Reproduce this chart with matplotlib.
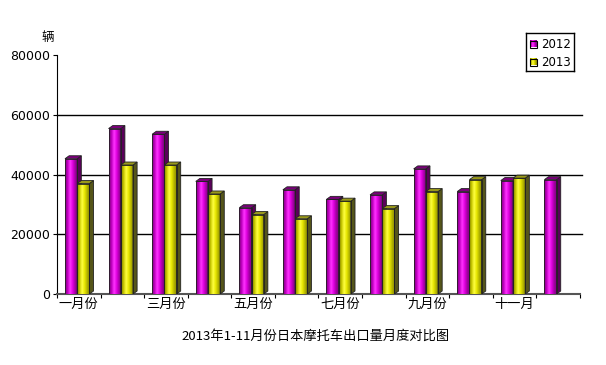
import numpy as np
import matplotlib.pyplot as plt
from matplotlib.patches import Polygon
from matplotlib.colors import LinearSegmentedColormap

plt.rcParams['font.family'] = ['Noto Sans CJK SC', 'DejaVu Sans']

# data
months = ['一月份', '二月份', '三月份', '四月份', '五月份', '六月份',
          '七月份', '八月份', '九月份', '十月份', '十一月', '十二月']
v2012 = [45300, 55400, 53500, 37700, 28900, 34900, 31700, 33200, 41900, 34300, 38000, 38300]
v2013 = [37000, 43200, 43200, 33500, 26600, 25200, 31100, 28600, 34300, 38300, 38800]
yticks = [0, 20000, 40000, 60000, 80000]

fig = plt.figure(figsize=(6.06, 3.65), dpi=100)
ax = fig.add_axes([0.094, 0.1945, 0.863, 0.6545])

cm12 = LinearSegmentedColormap.from_list('c12', ['#7a007a', '#c000c0', '#ff33ff', '#e000e0', '#a000a0', '#800080'])
cm13 = LinearSegmentedColormap.from_list('c13', ['#7a7a00', '#c8c800', '#ffff40', '#e6e600', '#b0b000', '#8a8a00'])
grad = np.linspace(0, 1, 64).reshape(1, -1)

bw = 0.28
dx, dy = 0.095, 1000

def draw3d(xs, vals, cmap, side, top):
    bars = ax.bar(xs, vals, width=bw, align='edge', color='none', edgecolor='none', zorder=3)
    for b in bars:
        x0, w, h = b.get_x(), b.get_width(), b.get_height()
        im = ax.imshow(grad, cmap=cmap, extent=[x0, x0 + w, 0, h], aspect='auto', zorder=3)
        im.set_clip_path(b)
        ax.add_patch(Polygon([[x0 + w, 0], [x0 + w + dx, dy], [x0 + w + dx, h + dy], [x0 + w, h]],
                             closed=True, fc=side, ec='#222222', lw=0.6, zorder=3))
        ax.add_patch(Polygon([[x0, h], [x0 + dx, h + dy], [x0 + w + dx, h + dy], [x0 + w, h]],
                             closed=True, fc=top, ec='#222222', lw=0.6, zorder=3))
        ax.add_patch(plt.Rectangle((x0, 0), w, h, fc='none', ec='#222222', lw=0.6, zorder=4))

x = np.arange(len(months))
draw3d(x[:len(v2012)] + 0.184, v2012, cm12, '#5a005a', '#7a007a')
draw3d(x[:len(v2013)] + 0.184 + bw, v2013, cm13, '#55551a', '#99991a')

ax.set_xlim(0, 12)
ax.set_ylim(0, 80000)
ax.set_yticks(yticks)
ax.set_yticklabels([str(t) for t in yticks], fontsize=9, family='DejaVu Sans')
for t in yticks[1:-1]:
    ax.plot([0, 12.05], [t, t], color='black', lw=1, zorder=1, clip_on=False)
ax.set_xticks(np.arange(0, 13))
ax.set_xticklabels([])
ax.set_xticks(x[::2] + 0.5, minor=True)
ax.set_xticklabels(months[::2], minor=True, fontsize=9.5)
ax.tick_params(axis='x', which='minor', length=0, pad=3)
ax.tick_params(axis='x', which='major', length=3, direction='out', width=0.8)
ax.tick_params(axis='y', length=3, width=0.8, pad=2)
for s in ['top', 'right']:
    ax.spines[s].set_visible(False)
ax.spines['bottom'].set_color('#555555')
ax.spines['bottom'].set_linewidth(1.5)

fig.text(0.068, 0.888, '辆', fontsize=9)
fig.text(0.52, 0.068, '2013年1-11月份日本摩托车出口量月度对比图', fontsize=9.5, ha='center')

# legend
lax = fig.add_axes([526 / 606, 1 - 71 / 365, 48 / 606, 38 / 365])
lax.set_xticks([])
lax.set_yticks([])
for s in lax.spines.values():
    s.set_linewidth(1)
for i, (lab, cm) in enumerate([('2012', cm12), ('2013', cm13)]):
    yy = 11 + i * 18
    lax.imshow(grad, cmap=cm, extent=[4, 11, yy + 3.5, yy - 3.5], aspect='auto')
    lax.add_patch(plt.Rectangle((4, yy - 3.5), 7, 7, fc='none', ec='black', lw=0.8))
    lax.text(15, yy, lab, fontsize=8.5, va='center', family='DejaVu Sans')
lax.set_xlim(0, 48)
lax.set_ylim(38, 0)

fig.savefig('out.png', dpi=100)
